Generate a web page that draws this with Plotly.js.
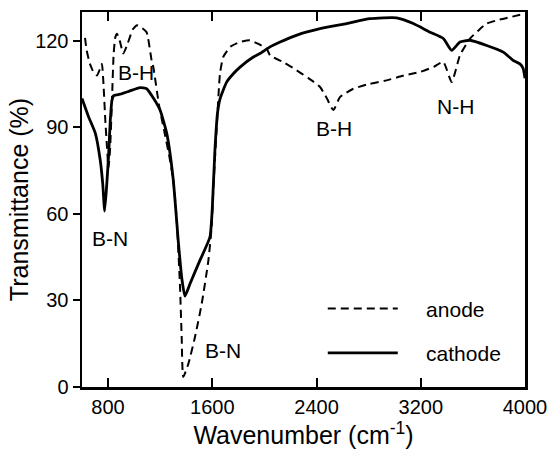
<!DOCTYPE html>
<html>
<head>
<meta charset="utf-8">
<script src="https://cdn.plot.ly/plotly-3.0.1.min.js"></script>
<style>html,body{margin:0;padding:0;background:#fff;}#chart{width:549px;height:454px;}</style>
</head>
<body>
<div id="chart"></div>
<script>
// Wavenumber (cm^-1) and transmittance (%)
var cathodeX = [600, 651, 702, 740, 759, 774, 792, 805, 817, 830, 843, 892, 960, 1045, 1096, 1150, 1199, 1250, 1300, 1340, 1365, 1390, 1429, 1505, 1582, 1600, 1620, 1640, 1660, 1710, 1761, 1813, 1915, 1966, 2043, 2120, 2250, 2427, 2631, 2810, 3015, 3143, 3271, 3373, 3437, 3501, 3578, 3706, 3833, 3910, 3961, 3985, 4000];
var cathodeY = [100, 93.6, 88, 78.6, 70.5, 61, 71.6, 81, 92.4, 99.4, 101, 101.5, 102.5, 103.8, 103.4, 100, 96, 88, 72, 50, 38, 31.5, 35.8, 43.9, 52, 62, 82, 95, 100, 105.7, 108.6, 110.9, 114.4, 115.6, 117.9, 119.6, 122, 124.2, 126, 127.7, 128, 126, 123, 120.8, 116.7, 119.6, 120.2, 118.4, 116.1, 113.2, 112, 110.5, 107];

var anodeX = [623, 636, 661, 690, 715, 740, 753, 766, 779, 792, 803, 815, 830, 843, 856, 869, 890, 917, 950, 990, 1022, 1060, 1096, 1135, 1147, 1190, 1230, 1270, 1300, 1327, 1352, 1365, 1377, 1416, 1467, 1519, 1570, 1595, 1608, 1634, 1659, 1684, 1740, 1813, 1889, 1950, 2017, 2043, 2150, 2248, 2340, 2427, 2480, 2529, 2580, 2682, 2800, 2938, 3070, 3194, 3300, 3373, 3437, 3501, 3578, 3640, 3706, 3800, 3885, 4000];
var anodeY = [121, 116.7, 112, 109, 108, 110.5, 112, 104, 92.4, 83, 76, 82, 99.4, 115.6, 121.3, 122.5, 120, 115.6, 119, 124, 125.4, 124.5, 123, 113, 111, 98, 89, 80, 72, 58, 35, 17.3, 3.5, 8, 17.3, 28.9, 43.9, 55.5, 69, 90, 108.6, 114.4, 118, 119.6, 120.2, 119, 117.3, 115, 112.5, 109.8, 107, 104, 100, 96, 100.5, 103.4, 105, 106.3, 108, 109.2, 111, 112.7, 105.7, 115, 120.8, 123.5, 126, 127.3, 128.2, 129.4];

var seriesNames = ["anode", "cathode"];
var xTicks = [800, 1600, 2400, 3200, 4000];
var yTicks = [0, 30, 60, 90, 120];
var yTicksRight = [25, 70, 115];
var yTicksInner = [30, 90, 120];

var peakLabels = ["B-H", "B-N", "B-N", "B-H", "N-H"];
var peakLabelX = [1014, 815, 1684, 2534, 3469];
var peakLabelY = [109, 51.5, 12.7, 89.5, 97.4];

var FONT = "Liberation Sans, Arial, Helvetica, sans-serif";
var PAD = "\u00a0\u00a0\u00a0\u00a0";

var traces = [
  {x: anodeX, y: anodeY, name: PAD + seriesNames[0], type: "scatter", mode: "lines",
   line: {color: "#000", width: 2, dash: "8px,5px", shape: "spline", smoothing: 0.5}, legendgroup: "a"},
  {x: cathodeX, y: cathodeY, name: PAD + seriesNames[1], type: "scatter", mode: "lines",
   line: {color: "#000", width: 2.8, shape: "spline", smoothing: 0.5}, legendgroup: "c"}
];

var annotations = peakLabels.map(function (t, i) {
  return {x: peakLabelX[i], y: peakLabelY[i], xref: "x", yref: "y", text: t,
          showarrow: false, font: {family: FONT, size: 21, color: "#000"}};
});

var layout = {
  width: 549, height: 454,
  margin: {l: 82, r: 24, t: 12, b: 67},
  paper_bgcolor: "#fff", plot_bgcolor: "#fff",
  font: {family: FONT, color: "#000", size: 20},
  showlegend: true,
  legend: {x: 0.5435, y: 0.263, xanchor: "left", yanchor: "top",
           font: {family: FONT, size: 21, color: "#000"},
           bgcolor: "rgba(0,0,0,0)", itemwidth: 70, tracegroupgap: 14},
  xaxis: {range: [600, 4000], tickvals: xTicks, ticktext: xTicks.map(String),
          ticks: "inside", ticklen: 9, tickwidth: 2, tickcolor: "#000",
          showline: true, linewidth: 2.5, linecolor: "#000", mirror: "ticks",
          showgrid: false, zeroline: false,
          tickfont: {family: FONT, size: 20, color: "#000"},
          title: {text: "Wavenumber (cm<sup>-1</sup>)", font: {family: FONT, size: 25, color: "#000"}, standoff: 10}},
  yaxis: {range: [0, 130], tickvals: yTicks, ticktext: yTicks.map(String),
          ticks: "outside", ticklen: 7, tickwidth: 2, tickcolor: "#000",
          showline: true, linewidth: 2.5, linecolor: "#000", mirror: true,
          showgrid: false, zeroline: false,
          tickfont: {family: FONT, size: 20, color: "#000"},
          title: {text: "Transmittance (%)", font: {family: FONT, size: 25, color: "#000"}, standoff: 0}},
  yaxis2: {range: [0, 130], overlaying: "y", side: "right", anchor: "x",
           tickvals: yTicksRight, ticks: "inside", ticklen: 9, tickwidth: 2, tickcolor: "#000",
           showticklabels: false, showline: false, showgrid: false, zeroline: false},
  yaxis3: {range: [0, 130], overlaying: "y", side: "left", anchor: "x",
           tickvals: yTicksInner, ticks: "inside", ticklen: 10, tickwidth: 2, tickcolor: "#000",
           showticklabels: false, showline: false, showgrid: false, zeroline: false},
  annotations: annotations
};

Plotly.newPlot("chart", traces, layout, {displayModeBar: false, staticPlot: true});
</script>
</body>
</html>
